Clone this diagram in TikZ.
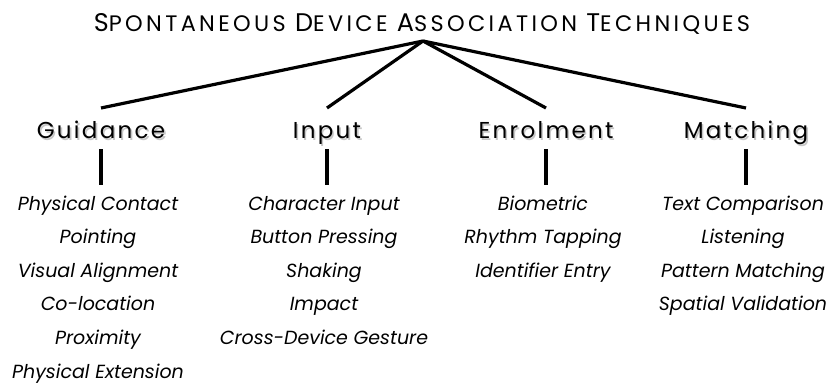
\documentclass[tikz,border=0pt]{standalone}
\usepackage{fontspec}
\setmainfont{Poppins}
\usetikzlibrary{positioning}

\newcommand{\capsbig}[1]{{\fontsize{25.5}{28}\selectfont #1}}
\newcommand{\shadowed}[1]{\makebox[0pt][l]{\hspace{1.6pt}\raisebox{-2.2pt}{\color{black!22}#1}}#1}

\tikzset{
  cat/.style={font=\fontsize{23}{28}\selectfont\addfontfeatures{LetterSpace=10}, inner sep=0pt, anchor=base},
  item/.style={font=\fontsize{19}{22}\selectfont\itshape, inner sep=0pt, anchor=base},
  limb/.style={line width=3.2pt},
}

\begin{document}
\begin{tikzpicture}[x=1pt,y=1pt]
\useasboundingbox (0,0) rectangle (828,-383);
%title
\node (title) [anchor=base, inner sep=0pt] at (422,-31) {\fontsize{22.4}{26}\selectfont\addfontfeatures{LetterSpace=15}\capsbig{S}PONTANEOUS \capsbig{D}EVICE \capsbig{A}SSOCIATION \capsbig{T}ECHNIQUES};
\coordinate (apex) at (423,-41);
%categories
\node (guid) [cat] at (101,-138) {\shadowed{Guidance}};
\node (inp) [cat] at (327,-138) {\shadowed{Input}};
\node (enrol) [cat] at (546,-138) {\shadowed{Enrolment}};
\node (match) [cat] at (746,-138) {\shadowed{Matching}};
%branches
\draw [limb] (apex) -- ([yshift=30pt]guid.base);
\draw [limb] (apex) -- ([yshift=30pt]inp.base);
\draw [limb] (apex) -- ([yshift=30pt]enrol.base);
\draw [limb] (apex) -- ([yshift=30pt]match.base);
%Guidance
\node (g1) [item] at (98,-210) {Physical Contact};
\node (g2) [item] at (98,-243.6) {Pointing};
\node (g3) [item] at (98,-277.2) {Visual Alignment};
\node (g4) [item] at (98,-310.8) {Co-location};
\node (g5) [item] at (98,-344.4) {Proximity};
\node (g6) [item] at (98,-378) {Physical Extension};
%Input
\node (i1) [item] at (324,-210) {Character Input};
\node (i2) [item] at (324,-243.6) {Button Pressing};
\node (i3) [item] at (324,-277.2) {Shaking};
\node (i4) [item] at (324,-310.8) {Impact};
\node (i5) [item] at (324,-344.4) {Cross-Device Gesture};
%Enrolment
\node (e1) [item] at (543,-210) {Biometric};
\node (e2) [item] at (543,-243.6) {Rhythm Tapping};
\node (e3) [item] at (543,-277.2) {Identifier Entry};
%Matching
\node (m1) [item] at (743,-210) {Text Comparison};
\node (m2) [item] at (743,-243.6) {Listening};
\node (m3) [item] at (743,-277.2) {Pattern Matching};
\node (m4) [item] at (743,-310.8) {Spatial Validation};
%stems
\draw [limb] ([yshift=-11pt]guid.base) -- ([xshift=3pt,yshift=25pt]g1.base);
\draw [limb] ([yshift=-11pt]inp.base) -- ([xshift=3pt,yshift=25pt]i1.base);
\draw [limb] ([yshift=-11pt]enrol.base) -- ([xshift=3pt,yshift=25pt]e1.base);
\draw [limb] ([yshift=-11pt]match.base) -- ([xshift=3pt,yshift=25pt]m1.base);
\end{tikzpicture}
\end{document}
